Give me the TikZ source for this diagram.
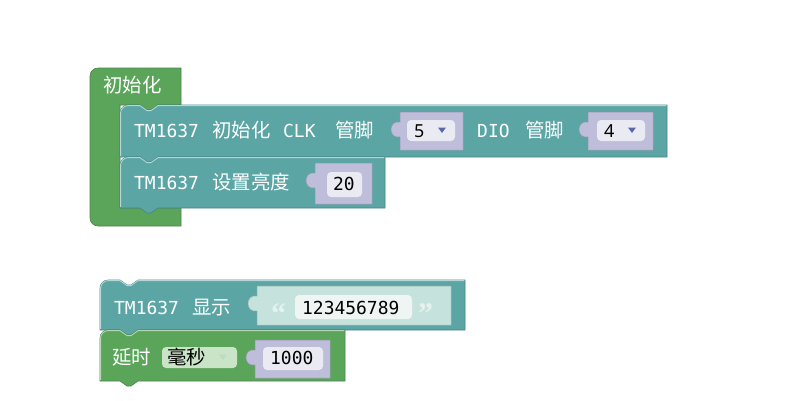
\documentclass[tikz,border=0pt]{standalone}
\usepackage{fontspec}
\usepackage{xcolor}
\usepackage{tikz}
\setmonofont{DejaVu Sans Mono}
\newfontfamily\cjk{Noto Sans CJK SC}
\newfontfamily\numfont{Noto Sans}
\newfontfamily\quotefont{Liberation Serif}
\definecolor{bteal}{RGB}{91,165,165}
\definecolor{bgreen}{RGB}{91,165,91}
\definecolor{bsock}{RGB}{190,190,218}
\definecolor{bfield}{RGB}{234,234,243}
\definecolor{btext}{RGB}{198,226,220}
\definecolor{btfield}{RGB}{238,245,243}
\definecolor{bdrop}{RGB}{202,228,200}
\definecolor{barrow}{RGB}{88,104,168}
\tikzset{
  lbl/.style    ={anchor=base west, inner sep=0pt, text=white, font=\ttfamily\fontsize{18}{20}\selectfont},
  clbl/.style   ={anchor=base west, inner sep=0pt, text=white, font=\cjk\fontsize{19.5}{22}\selectfont},
  val/.style    ={anchor=base west, inner sep=0pt, text=black, font=\ttfamily\fontsize{18}{20}\selectfont},
  num/.style    ={anchor=base west, inner sep=0pt, text=black, font=\numfont\fontsize{18}{20}\selectfont},
  cval/.style   ={anchor=base west, inner sep=0pt, text=black, font=\cjk\fontsize{19.5}{22}\selectfont},
  qt/.style     ={anchor=base west, inner sep=0pt, text=white!55!btext, font=\quotefont\bfseries\fontsize{30}{30}\selectfont},
  field/.style  ={rounded corners=4bp}
}
% statement block: x1 y1 x2 y2 colour
\newcommand{\stmtblk}[5]{%
  \filldraw[fill=#5, draw=#5!80!black, line width=0.6bp]
    (#1,#4) -- (#1,#2+8) .. controls (#1,#2+3.6) and (#1+3.6,#2) .. (#1+8,#2)
    -- (#1+20,#2) -- (#1+27,#2+5) -- (#1+31,#2+5) -- (#1+38,#2) -- (#3,#2) -- (#3,#4)
    -- (#1+38,#4) -- (#1+31,#4+5) -- (#1+27,#4+5) -- (#1+20,#4) -- cycle;
  \draw[#5!45!white, line width=0.9bp]
    (#1+0.6,#4-1) -- (#1+0.6,#2+8) .. controls (#1+0.6,#2+4) and (#1+4,#2+0.6) .. (#1+8,#2+0.6)
    -- (#1+20,#2+0.6) -- (#1+27,#2+5.6) -- (#1+31,#2+5.6) -- (#1+38,#2+0.6) -- (#3-0.6,#2+0.6);
}
% value socket with left tab: x1 y1 x2 y2 colour
\newcommand{\sockblk}[5]{%
  \filldraw[fill=#5, draw=#5!80!black, line width=0.5bp]
    (#1,#2) -- (#3,#2) -- (#3,#4) -- (#1,#4) -- (#1,#2+25)
    .. controls (#1-12,#2+27) and (#1-12,#2+8) .. (#1,#2+10) -- cycle;
}
% dropdown arrow
\newcommand{\dropmark}[3]{%
  \fill[#3] (#1-4,#2-2.5) -- (#1+4,#2-2.5) -- (#1,#2+3) -- cycle;
}

\begin{document}
\begin{tikzpicture}[x=1bp, y=-1bp]
\useasboundingbox (0,0) rectangle (792,400);

% setup block
\filldraw[fill=bgreen, draw=bgreen!80!black, line width=0.6bp]
  (90,76) .. controls (90,71.6) and (93.6,68) .. (98,68) -- (181,68) -- (181,105)
  -- (158,105) -- (151,110) -- (147,110) -- (140,105) -- (120,105) -- (120,208)
  -- (181,208) -- (181,226) -- (98,226) .. controls (93.6,226) and (90,222.4) .. (90,218) -- cycle;
\node[clbl] (setup) at (103,92) {初始化};

% TM1637 init
\stmtblk{120}{105}{667}{157}{bteal}
\node[lbl]  (initA) at (134,137) {TM1637};
\node[clbl] (initB) at (212,137) {初始化};
\node[lbl]  (initC) at (283,137) {CLK};
\node[clbl] (initD) at (335,137) {管脚};
\sockblk{400}{112}{463}{150}{bsock}
\fill[bfield, field] (407,120) rectangle (455,141);
\node[num] (clkpin) at (414,137) {5};
\dropmark{442}{130}{barrow}
\node[lbl]  (initE) at (477,137) {DIO};
\node[clbl] (initF) at (525,137) {管脚};
\sockblk{588}{112}{653}{150}{bsock}
\fill[bfield, field] (597,120) rectangle (645,141);
\node[num] (diopin) at (604,137) {4};
\dropmark{632}{130}{barrow}

% brightness
\stmtblk{120}{157}{385}{208}{bteal}
\node[lbl]  (brtA) at (134,189) {TM1637};
\node[clbl] (brtB) at (212,189) {设置亮度};
\sockblk{315}{163}{372}{204}{bsock}
\fill[bfield, field] (327,172) rectangle (362,197);
\node[val] (brtval) at (333,190) {20};

% display
\stmtblk{100}{280}{465}{330}{bteal}
\node[lbl]  (dispA) at (114,314) {TM1637};
\node[clbl] (dispB) at (192,314) {显示};
\sockblk{257}{286}{451}{325}{btext}
\fill[btfield, field] (295,295) rectangle (412,319);
\node[qt]  (qopen)  at (271,323) {“};
\node[val] (dispval) at (302,314) {123456789};
\node[qt]  (qclose) at (418,323) {”};

% delay
\stmtblk{100}{330}{345}{381}{bgreen}
\node[clbl] (dlyA) at (112,364) {延时};
\fill[bdrop, field] (162,347) rectangle (237,368);
\node[cval] (dlyunit) at (167,364) {毫秒};
\dropmark{223}{357}{white!60!bgreen}
\sockblk{255}{340}{330}{378}{bsock}
\fill[bfield, field] (263,347) rectangle (323,370);
\node[val] (dlyval) at (270,364) {1000};
\end{tikzpicture}
\end{document}
